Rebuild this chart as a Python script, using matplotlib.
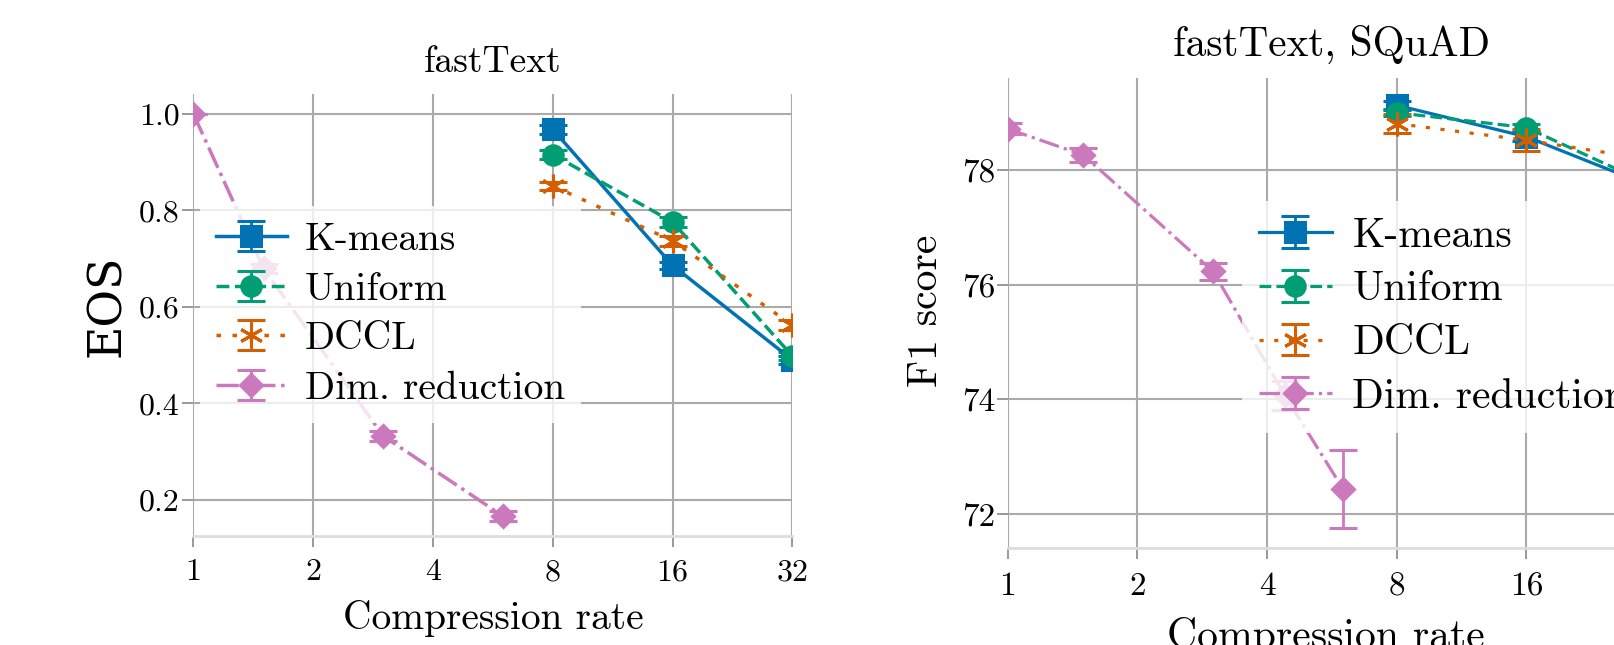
## EOS and F1 score vs compression rate (fastText)
import numpy as np
import matplotlib
matplotlib.use('Agg')
import matplotlib.pyplot as plt
from matplotlib.legend_handler import HandlerErrorbar
from matplotlib.container import ErrorbarContainer

plt.rcParams['font.family'] = ['cmr10', 'DejaVu Serif']
plt.rcParams['axes.formatter.use_mathtext'] = True

## Data
rates_q = [8, 16, 32]
rates_dim_eos = [1, 1.5, 3, 6]
rates_dim_f1 = [1, 1.5, 3, 4.4, 6]
xticks = [1, 2, 4, 8, 16, 32]

# left panel: EOS
eos_kmeans = [0.968, 0.686, 0.490]
eos_kmeans_err = [0.010, 0.008, 0.008]
eos_uniform = [0.916, 0.776, 0.498]
eos_uniform_err = [0.010, 0.010, 0.008]
eos_dccl = [0.851, 0.737, 0.562]
eos_dccl_err = [0.008, 0.010, 0.010]
eos_dim = [1.0, 0.68, 0.332, 0.166]
eos_dim_err = [0.0, 0.010, 0.010, 0.010]
eos_yticks = [0.2, 0.4, 0.6, 0.8, 1.0]

# right panel: F1 score on SQuAD
f1_kmeans = [79.13, 78.58, 77.68]
f1_kmeans_err = [0.08, 0.08, 0.08]
f1_uniform = [79.00, 78.74, 77.70]
f1_uniform_err = [0.06, 0.06, 0.06]
f1_dccl = [78.81, 78.52, 78.17]
f1_dccl_err = [0.16, 0.19, 0.15]
f1_dim = [78.72, 78.26, 76.23, 74.07, 72.44]
f1_dim_err = [0.10, 0.12, 0.15, 0.25, 0.68]
f1_yticks = [72, 74, 76, 78]

labels = ['K-means', 'Uniform', 'DCCL', 'Dim. reduction']
colors = ['#0173b2', '#029e73', '#d55e00', '#cc78bc']
markers = ['s', 'o', (6, 2, 0), 'D']
msizes = [15, 14, 17, 11]
lstyles = ['-', '--', (0, (1.3, 3.3)), '-.']

fig = plt.figure(figsize=(16.15, 6.45), dpi=100)
ax1 = fig.add_axes([0.11981, 0.16837, 0.37084, 0.68620])
ax2 = fig.add_axes([0.62390, 0.15070, 0.40155, 0.72791])


def style_axes(ax, yticks, yfmt, tick_fs, ypad, xpad):
    ax.set_xscale('log', base=2)
    ax.set_xlim(1, 32)
    ax.set_xticks(xticks)
    ax.set_xticklabels([str(t) for t in xticks], fontsize=tick_fs)
    ax.minorticks_off()
    ax.set_yticks(yticks)
    ax.set_yticklabels([yfmt % t for t in yticks], fontsize=tick_fs)
    ax.set_axisbelow(True)
    ax.grid(True, color='#aaaaaa', lw=1.5)
    for s in ['left', 'right', 'top']:
        ax.spines[s].set_visible(False)
    ax.spines['bottom'].set_color('#dddddd')
    ax.spines['bottom'].set_linewidth(2)
    ax.tick_params(axis='both', color='#999999', width=1.4, length=8)
    ax.tick_params(axis='x', pad=xpad)
    ax.tick_params(axis='y', pad=ypad)


def draw(ax, xs, ys, errs, lw):
    for i in range(4):
        ax.errorbar(xs[i], ys[i], yerr=errs[i], label=labels[i],
                    color=colors[i], marker=markers[i], ms=msizes[i],
                    mew=2.2, ls=lstyles[i], lw=lw, capsize=10,
                    capthick=2, elinewidth=2)


hmap = {ErrorbarContainer: HandlerErrorbar(xerr_size=0.5, yerr_size=0.38)}

## Left panel
draw(ax1, [rates_q, rates_q, rates_q, rates_dim_eos],
     [eos_kmeans, eos_uniform, eos_dccl, eos_dim],
     [eos_kmeans_err, eos_uniform_err, eos_dccl_err, eos_dim_err], 2.5)
style_axes(ax1, eos_yticks, '%.1f', 23, 2, 8)
ax1.set_ylim(0.124, 1.042)
ax1.set_title('fastText', fontsize=27, pad=16)
ax1.set_xlabel('Compression rate', fontsize=28.4, va='top')
ax1.xaxis.set_label_coords(0.5, -0.1437)
ax1.set_ylabel('EOS', fontsize=33, family='DejaVu Serif')
ax1.yaxis.set_label_coords(-0.106, 0.522)
leg1 = ax1.legend(loc='center left', bbox_to_anchor=(200 / 1615, 1 - 314.5 / 645),
                  bbox_transform=fig.transFigure, borderaxespad=0,
                  fontsize=28.4, handlelength=1.8, handletextpad=0.45,
                  labelspacing=0.35, framealpha=0.8, edgecolor='none',
                  fancybox=False, handler_map=hmap)

## Right panel
draw(ax2, [rates_q, rates_q, rates_q, rates_dim_f1],
     [f1_kmeans, f1_uniform, f1_dccl, f1_dim],
     [f1_kmeans_err, f1_uniform_err, f1_dccl_err, f1_dim_err], 2.3)
style_axes(ax2, f1_yticks, '%d', 24, 1, 9.5)
ax2.set_ylim(71.41, 79.6)
ax2.set_title('fastText, SQuAD', fontsize=29.7, pad=16.4)
ax2.set_xlabel('Compression rate', fontsize=30, va='top')
ax2.xaxis.set_label_coords(0.491, -0.1474)
ax2.set_ylabel('F1 score', fontsize=30)
ax2.yaxis.set_label_coords(-0.0966, 0.5044)
leg2 = ax2.legend(loc='center left', bbox_to_anchor=(1242 / 1615, 1 - 316.6 / 645),
                  bbox_transform=fig.transFigure, borderaxespad=0,
                  fontsize=30, handlelength=1.75, handletextpad=0.5,
                  labelspacing=0.39, framealpha=0.8, edgecolor='none',
                  fancybox=False, handler_map=hmap)

fig.savefig('out.png', dpi=100)
